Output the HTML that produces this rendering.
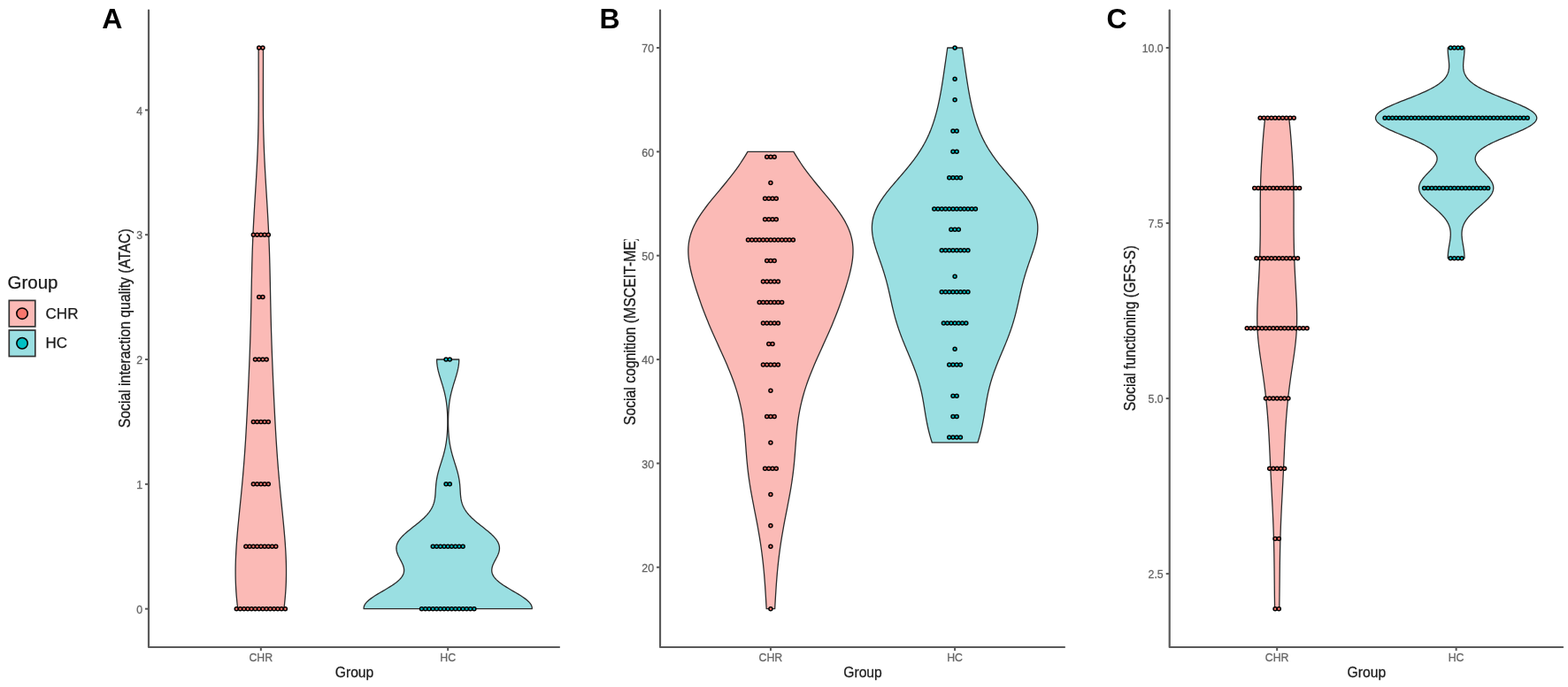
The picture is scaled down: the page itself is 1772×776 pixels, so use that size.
<!DOCTYPE html>
<html><head><meta charset="utf-8"><title>Violin plots</title>
<style>html,body{margin:0;padding:0;background:#fff;}svg{display:block;}text{font-family:'Liberation Sans', Arial, sans-serif;}</style>
</head><body>
<svg width="1772" height="776" viewBox="0 0 1772 776">
<rect width="1772" height="776" fill="#ffffff"/>
<defs><clipPath id="clipB" clipPathUnits="userSpaceOnUse"><rect x="690" y="270.3" width="40" height="300"/></clipPath></defs>
<path d="M268.73 687.7 L268.29 683.98 L267.88 680.26 L267.52 676.54 L267.19 672.82 L266.91 669.1 L266.68 665.38 L266.48 661.65 L266.33 657.93 L266.22 654.21 L266.15 650.49 L266.12 646.77 L266.13 643.05 L266.17 639.33 L266.26 635.61 L266.37 631.89 L266.52 628.17 L266.7 624.45 L266.91 620.73 L267.14 617 L267.4 613.28 L267.68 609.56 L267.98 605.84 L268.29 602.12 L268.62 598.4 L268.96 594.68 L269.32 590.96 L269.68 587.24 L270.05 583.52 L270.42 579.8 L270.79 576.08 L271.17 572.35 L271.54 568.63 L271.92 564.91 L272.29 561.19 L272.65 557.47 L273.01 553.75 L273.37 550.03 L273.72 546.31 L274.06 542.59 L274.39 538.87 L274.71 535.15 L275.03 531.43 L275.33 527.7 L275.63 523.98 L275.92 520.26 L276.2 516.54 L276.47 512.82 L276.73 509.1 L276.98 505.38 L277.23 501.66 L277.47 497.94 L277.7 494.22 L277.92 490.5 L278.14 486.78 L278.36 483.05 L278.56 479.33 L278.77 475.61 L278.96 471.89 L279.16 468.17 L279.35 464.45 L279.53 460.73 L279.72 457.01 L279.9 453.29 L280.08 449.57 L280.25 445.85 L280.42 442.13 L280.59 438.4 L280.76 434.68 L280.93 430.96 L281.09 427.24 L281.25 423.52 L281.41 419.8 L281.57 416.08 L281.72 412.36 L281.87 408.64 L282.02 404.92 L282.16 401.2 L282.3 397.48 L282.43 393.76 L282.56 390.03 L282.69 386.31 L282.81 382.59 L282.93 378.87 L283.04 375.15 L283.15 371.43 L283.25 367.71 L283.35 363.99 L283.45 360.27 L283.54 356.55 L283.63 352.83 L283.71 349.11 L283.79 345.38 L283.87 341.66 L283.94 337.94 L284.02 334.22 L284.09 330.5 L284.16 326.78 L284.23 323.06 L284.31 319.34 L284.38 315.62 L284.46 311.9 L284.54 308.18 L284.63 304.46 L284.72 300.73 L284.81 297.01 L284.92 293.29 L285.02 289.57 L285.14 285.85 L285.26 282.13 L285.39 278.41 L285.53 274.69 L285.68 270.97 L285.84 267.25 L286 263.53 L286.18 259.81 L286.36 256.08 L286.55 252.36 L286.75 248.64 L286.95 244.92 L287.16 241.2 L287.38 237.48 L287.6 233.76 L287.82 230.04 L288.05 226.32 L288.28 222.6 L288.51 218.88 L288.74 215.16 L288.96 211.43 L289.19 207.71 L289.41 203.99 L289.63 200.27 L289.85 196.55 L290.06 192.83 L290.26 189.11 L290.45 185.39 L290.64 181.67 L290.81 177.95 L290.98 174.23 L291.14 170.51 L291.28 166.78 L291.42 163.06 L291.54 159.34 L291.65 155.62 L291.75 151.9 L291.84 148.18 L291.92 144.46 L291.99 140.74 L292.05 137.02 L292.1 133.3 L292.14 129.58 L292.18 125.86 L292.2 122.14 L292.22 118.41 L292.23 114.69 L292.24 110.97 L292.24 107.25 L292.23 103.53 L292.23 99.81 L292.22 96.09 L292.21 92.37 L292.2 88.65 L292.18 84.93 L292.17 81.21 L292.16 77.49 L292.16 73.76 L292.15 70.04 L292.15 66.32 L292.15 62.6 L292.16 58.88 L292.17 55.16 L292.18 53.92 L297.46 53.92 L297.46 55.16 L297.48 58.88 L297.48 62.6 L297.48 66.32 L297.48 70.04 L297.48 73.76 L297.47 77.49 L297.46 81.21 L297.45 84.93 L297.44 88.65 L297.43 92.37 L297.42 96.09 L297.41 99.81 L297.4 103.53 L297.4 107.25 L297.4 110.97 L297.41 114.69 L297.42 118.41 L297.44 122.14 L297.46 125.86 L297.49 129.58 L297.53 133.3 L297.58 137.02 L297.64 140.74 L297.71 144.46 L297.79 148.18 L297.88 151.9 L297.98 155.62 L298.1 159.34 L298.22 163.06 L298.36 166.78 L298.5 170.51 L298.66 174.23 L298.82 177.95 L299 181.67 L299.18 185.39 L299.38 189.11 L299.58 192.83 L299.79 196.55 L300 200.27 L300.22 203.99 L300.45 207.71 L300.67 211.43 L300.9 215.16 L301.13 218.88 L301.36 222.6 L301.59 226.32 L301.82 230.04 L302.04 233.76 L302.26 237.48 L302.48 241.2 L302.69 244.92 L302.89 248.64 L303.09 252.36 L303.28 256.08 L303.46 259.81 L303.63 263.53 L303.8 267.25 L303.95 270.97 L304.1 274.69 L304.24 278.41 L304.37 282.13 L304.5 285.85 L304.61 289.57 L304.72 293.29 L304.82 297.01 L304.92 300.73 L305.01 304.46 L305.09 308.18 L305.18 311.9 L305.25 315.62 L305.33 319.34 L305.4 323.06 L305.48 326.78 L305.55 330.5 L305.62 334.22 L305.69 337.94 L305.77 341.66 L305.85 345.38 L305.93 349.11 L306.01 352.83 L306.1 356.55 L306.19 360.27 L306.28 363.99 L306.38 367.71 L306.49 371.43 L306.59 375.15 L306.71 378.87 L306.82 382.59 L306.95 386.31 L307.07 390.03 L307.2 393.76 L307.34 397.48 L307.48 401.2 L307.62 404.92 L307.77 408.64 L307.92 412.36 L308.07 416.08 L308.22 419.8 L308.38 423.52 L308.54 427.24 L308.71 430.96 L308.87 434.68 L309.04 438.4 L309.21 442.13 L309.38 445.85 L309.56 449.57 L309.74 453.29 L309.92 457.01 L310.1 460.73 L310.29 464.45 L310.48 468.17 L310.67 471.89 L310.87 475.61 L311.07 479.33 L311.28 483.05 L311.49 486.78 L311.71 490.5 L311.94 494.22 L312.17 497.94 L312.41 501.66 L312.65 505.38 L312.91 509.1 L313.17 512.82 L313.44 516.54 L313.72 520.26 L314.01 523.98 L314.3 527.7 L314.61 531.43 L314.92 535.15 L315.25 538.87 L315.58 542.59 L315.92 546.31 L316.27 550.03 L316.62 553.75 L316.98 557.47 L317.35 561.19 L317.72 564.91 L318.09 568.63 L318.47 572.35 L318.84 576.08 L319.22 579.8 L319.59 583.52 L319.96 587.24 L320.32 590.96 L320.67 594.68 L321.01 598.4 L321.34 602.12 L321.66 605.84 L321.96 609.56 L322.24 613.28 L322.49 617 L322.73 620.73 L322.94 624.45 L323.11 628.17 L323.26 631.89 L323.38 635.61 L323.46 639.33 L323.51 643.05 L323.52 646.77 L323.49 650.49 L323.42 654.21 L323.31 657.93 L323.16 661.65 L322.96 665.38 L322.72 669.1 L322.44 672.82 L322.12 676.54 L321.75 680.26 L321.35 683.98 L320.9 687.7Z" fill="#FBBAB6" stroke="#2b2b2b" stroke-width="1.3" stroke-linejoin="round"/>
<path d="M411.1 687.7 L411.14 686.05 L411.57 684.39 L412.4 682.74 L413.58 681.09 L415.11 679.43 L416.95 677.78 L419.06 676.12 L421.4 674.47 L423.94 672.82 L426.62 671.16 L429.39 669.51 L432.22 667.86 L435.05 666.2 L437.84 664.55 L440.55 662.89 L443.13 661.24 L445.55 659.59 L447.78 657.93 L449.79 656.28 L451.56 654.63 L453.07 652.97 L454.31 651.32 L455.28 649.66 L455.99 648.01 L456.43 646.36 L456.62 644.7 L456.58 643.05 L456.33 641.4 L455.89 639.74 L455.3 638.09 L454.58 636.44 L453.77 634.78 L452.91 633.13 L452.02 631.47 L451.15 629.82 L450.32 628.17 L449.58 626.51 L448.94 624.86 L448.43 623.21 L448.09 621.55 L447.92 619.9 L447.94 618.24 L448.16 616.59 L448.6 614.94 L449.24 613.28 L450.09 611.63 L451.15 609.98 L452.39 608.32 L453.82 606.67 L455.41 605.02 L457.14 603.36 L458.98 601.71 L460.93 600.05 L462.95 598.4 L465.02 596.75 L467.11 595.09 L469.21 593.44 L471.28 591.79 L473.31 590.13 L475.27 588.48 L477.16 586.82 L478.95 585.17 L480.63 583.52 L482.2 581.86 L483.64 580.21 L484.95 578.56 L486.13 576.9 L487.18 575.25 L488.11 573.59 L488.91 571.94 L489.59 570.29 L490.17 568.63 L490.64 566.98 L491.03 565.33 L491.34 563.67 L491.59 562.02 L491.79 560.37 L491.94 558.71 L492.06 557.06 L492.17 555.4 L492.26 553.75 L492.36 552.1 L492.47 550.44 L492.6 548.79 L492.74 547.14 L492.92 545.48 L493.13 543.83 L493.37 542.17 L493.65 540.52 L493.97 538.87 L494.32 537.21 L494.71 535.56 L495.13 533.91 L495.57 532.25 L496.04 530.6 L496.53 528.94 L497.04 527.29 L497.56 525.64 L498.08 523.98 L498.61 522.33 L499.13 520.68 L499.65 519.02 L500.16 517.37 L500.65 515.72 L501.13 514.06 L501.58 512.41 L502.01 510.75 L502.42 509.1 L502.81 507.45 L503.17 505.79 L503.5 504.14 L503.81 502.49 L504.09 500.83 L504.34 499.18 L504.57 497.52 L504.78 495.87 L504.96 494.22 L505.13 492.56 L505.27 490.91 L505.39 489.26 L505.5 487.6 L505.58 485.95 L505.66 484.3 L505.71 482.64 L505.76 480.99 L505.79 479.33 L505.8 477.68 L505.81 476.03 L505.8 474.37 L505.77 472.72 L505.74 471.07 L505.69 469.41 L505.62 467.76 L505.54 466.1 L505.45 464.45 L505.33 462.8 L505.2 461.14 L505.05 459.49 L504.88 457.84 L504.68 456.18 L504.46 454.53 L504.22 452.87 L503.95 451.22 L503.66 449.57 L503.34 447.91 L502.99 446.26 L502.62 444.61 L502.23 442.95 L501.81 441.3 L501.36 439.65 L500.9 437.99 L500.42 436.34 L499.92 434.68 L499.41 433.03 L498.9 431.38 L498.38 429.72 L497.86 428.07 L497.35 426.42 L496.85 424.76 L496.37 423.11 L495.91 421.45 L495.49 419.8 L495.09 418.15 L494.73 416.49 L494.42 414.84 L494.15 413.19 L493.94 411.53 L493.77 409.88 L493.67 408.22 L493.62 406.57 L493.62 406.02 L518.75 406.02 L518.74 406.57 L518.69 408.22 L518.59 409.88 L518.43 411.53 L518.21 413.19 L517.94 414.84 L517.63 416.49 L517.27 418.15 L516.88 419.8 L516.45 421.45 L515.99 423.11 L515.51 424.76 L515.01 426.42 L514.5 428.07 L513.99 429.72 L513.47 431.38 L512.95 433.03 L512.44 434.68 L511.95 436.34 L511.47 437.99 L511 439.65 L510.56 441.3 L510.14 442.95 L509.74 444.61 L509.37 446.26 L509.02 447.91 L508.7 449.57 L508.41 451.22 L508.14 452.87 L507.9 454.53 L507.68 456.18 L507.49 457.84 L507.32 459.49 L507.16 461.14 L507.03 462.8 L506.92 464.45 L506.82 466.1 L506.74 467.76 L506.68 469.41 L506.63 471.07 L506.59 472.72 L506.57 474.37 L506.56 476.03 L506.56 477.68 L506.58 479.33 L506.61 480.99 L506.65 482.64 L506.71 484.3 L506.78 485.95 L506.87 487.6 L506.97 489.26 L507.09 490.91 L507.24 492.56 L507.4 494.22 L507.58 495.87 L507.79 497.52 L508.02 499.18 L508.27 500.83 L508.56 502.49 L508.86 504.14 L509.19 505.79 L509.55 507.45 L509.94 509.1 L510.35 510.75 L510.78 512.41 L511.24 514.06 L511.71 515.72 L512.21 517.37 L512.71 519.02 L513.23 520.68 L513.75 522.33 L514.28 523.98 L514.81 525.64 L515.32 527.29 L515.83 528.94 L516.32 530.6 L516.79 532.25 L517.24 533.91 L517.65 535.56 L518.04 537.21 L518.39 538.87 L518.71 540.52 L518.99 542.17 L519.23 543.83 L519.44 545.48 L519.62 547.14 L519.77 548.79 L519.89 550.44 L520 552.1 L520.1 553.75 L520.2 555.4 L520.3 557.06 L520.42 558.71 L520.58 560.37 L520.77 562.02 L521.02 563.67 L521.33 565.33 L521.72 566.98 L522.2 568.63 L522.77 570.29 L523.46 571.94 L524.26 573.59 L525.18 575.25 L526.23 576.9 L527.41 578.56 L528.72 580.21 L530.16 581.86 L531.73 583.52 L533.41 585.17 L535.2 586.82 L537.09 588.48 L539.06 590.13 L541.08 591.79 L543.16 593.44 L545.25 595.09 L547.34 596.75 L549.41 598.4 L551.43 600.05 L553.38 601.71 L555.23 603.36 L556.96 605.02 L558.54 606.67 L559.97 608.32 L561.22 609.98 L562.27 611.63 L563.12 613.28 L563.77 614.94 L564.2 616.59 L564.43 618.24 L564.45 619.9 L564.28 621.55 L563.93 623.21 L563.42 624.86 L562.79 626.51 L562.04 628.17 L561.21 629.82 L560.34 631.47 L559.46 633.13 L558.59 634.78 L557.78 636.44 L557.07 638.09 L556.47 639.74 L556.04 641.4 L555.79 643.05 L555.74 644.7 L555.93 646.36 L556.38 648.01 L557.08 649.66 L558.05 651.32 L559.3 652.97 L560.81 654.63 L562.58 656.28 L564.59 657.93 L566.81 659.59 L569.23 661.24 L571.82 662.89 L574.52 664.55 L577.31 666.2 L580.14 667.86 L582.97 669.51 L585.75 671.16 L588.43 672.82 L590.96 674.47 L593.3 676.12 L595.42 677.78 L597.25 679.43 L598.78 681.09 L599.97 682.74 L600.79 684.39 L601.23 686.05 L601.26 687.7Z" fill="#9ADFE2" stroke="#2b2b2b" stroke-width="1.3" stroke-linejoin="round"/>
<g fill="#F8766D" stroke="#000" stroke-width="1.5"><circle cx="267.26" cy="687.7" r="2.0"/><circle cx="271.5" cy="687.7" r="2.0"/><circle cx="275.74" cy="687.7" r="2.0"/><circle cx="279.98" cy="687.7" r="2.0"/><circle cx="284.22" cy="687.7" r="2.0"/><circle cx="288.46" cy="687.7" r="2.0"/><circle cx="292.7" cy="687.7" r="2.0"/><circle cx="296.94" cy="687.7" r="2.0"/><circle cx="301.18" cy="687.7" r="2.0"/><circle cx="305.42" cy="687.7" r="2.0"/><circle cx="309.66" cy="687.7" r="2.0"/><circle cx="313.9" cy="687.7" r="2.0"/><circle cx="318.14" cy="687.7" r="2.0"/><circle cx="322.38" cy="687.7" r="2.0"/><circle cx="277.86" cy="617.28" r="2.0"/><circle cx="282.1" cy="617.28" r="2.0"/><circle cx="286.34" cy="617.28" r="2.0"/><circle cx="290.58" cy="617.28" r="2.0"/><circle cx="294.82" cy="617.28" r="2.0"/><circle cx="299.06" cy="617.28" r="2.0"/><circle cx="303.3" cy="617.28" r="2.0"/><circle cx="307.54" cy="617.28" r="2.0"/><circle cx="311.78" cy="617.28" r="2.0"/><circle cx="286.34" cy="546.86" r="2.0"/><circle cx="290.58" cy="546.86" r="2.0"/><circle cx="294.82" cy="546.86" r="2.0"/><circle cx="299.06" cy="546.86" r="2.0"/><circle cx="303.3" cy="546.86" r="2.0"/><circle cx="286.34" cy="476.44" r="2.0"/><circle cx="290.58" cy="476.44" r="2.0"/><circle cx="294.82" cy="476.44" r="2.0"/><circle cx="299.06" cy="476.44" r="2.0"/><circle cx="303.3" cy="476.44" r="2.0"/><circle cx="288.46" cy="406.02" r="2.0"/><circle cx="292.7" cy="406.02" r="2.0"/><circle cx="296.94" cy="406.02" r="2.0"/><circle cx="301.18" cy="406.02" r="2.0"/><circle cx="292.7" cy="335.6" r="2.0"/><circle cx="296.94" cy="335.6" r="2.0"/><circle cx="286.34" cy="265.18" r="2.0"/><circle cx="290.58" cy="265.18" r="2.0"/><circle cx="294.82" cy="265.18" r="2.0"/><circle cx="299.06" cy="265.18" r="2.0"/><circle cx="303.3" cy="265.18" r="2.0"/><circle cx="292.7" cy="53.92" r="2.0"/><circle cx="296.94" cy="53.92" r="2.0"/></g>
<g fill="#00BFC4" stroke="#000" stroke-width="1.5"><circle cx="476.5" cy="687.7" r="2.0"/><circle cx="480.74" cy="687.7" r="2.0"/><circle cx="484.98" cy="687.7" r="2.0"/><circle cx="489.22" cy="687.7" r="2.0"/><circle cx="493.46" cy="687.7" r="2.0"/><circle cx="497.7" cy="687.7" r="2.0"/><circle cx="501.94" cy="687.7" r="2.0"/><circle cx="506.18" cy="687.7" r="2.0"/><circle cx="510.42" cy="687.7" r="2.0"/><circle cx="514.66" cy="687.7" r="2.0"/><circle cx="518.9" cy="687.7" r="2.0"/><circle cx="523.14" cy="687.7" r="2.0"/><circle cx="527.38" cy="687.7" r="2.0"/><circle cx="531.62" cy="687.7" r="2.0"/><circle cx="535.86" cy="687.7" r="2.0"/><circle cx="489.22" cy="617.28" r="2.0"/><circle cx="493.46" cy="617.28" r="2.0"/><circle cx="497.7" cy="617.28" r="2.0"/><circle cx="501.94" cy="617.28" r="2.0"/><circle cx="506.18" cy="617.28" r="2.0"/><circle cx="510.42" cy="617.28" r="2.0"/><circle cx="514.66" cy="617.28" r="2.0"/><circle cx="518.9" cy="617.28" r="2.0"/><circle cx="523.14" cy="617.28" r="2.0"/><circle cx="504.06" cy="546.86" r="2.0"/><circle cx="508.3" cy="546.86" r="2.0"/><circle cx="504.06" cy="406.02" r="2.0"/><circle cx="508.3" cy="406.02" r="2.0"/></g>
<path d="M168 11.55 L168 731 L632 731" fill="none" stroke="#5a5a5a" stroke-width="2.2" stroke-linecap="round" stroke-linejoin="round"/>
<line x1="164" y1="687.7" x2="168" y2="687.7" stroke="#5a5a5a" stroke-width="2"/>
<text x="161" y="693" text-anchor="end" font-size="12.3" fill="#666666" stroke="#666666" stroke-width="0.3">0</text>
<line x1="164" y1="546.86" x2="168" y2="546.86" stroke="#5a5a5a" stroke-width="2"/>
<text x="161" y="552.16" text-anchor="end" font-size="12.3" fill="#666666" stroke="#666666" stroke-width="0.3">1</text>
<line x1="164" y1="406.02" x2="168" y2="406.02" stroke="#5a5a5a" stroke-width="2"/>
<text x="161" y="411.32" text-anchor="end" font-size="12.3" fill="#666666" stroke="#666666" stroke-width="0.3">2</text>
<line x1="164" y1="265.18" x2="168" y2="265.18" stroke="#5a5a5a" stroke-width="2"/>
<text x="161" y="270.48" text-anchor="end" font-size="12.3" fill="#666666" stroke="#666666" stroke-width="0.3">3</text>
<line x1="164" y1="124.34" x2="168" y2="124.34" stroke="#5a5a5a" stroke-width="2"/>
<text x="161" y="129.64" text-anchor="end" font-size="12.3" fill="#666666" stroke="#666666" stroke-width="0.3">4</text>
<line x1="294.82" y1="731" x2="294.82" y2="735" stroke="#5a5a5a" stroke-width="2"/>
<text x="294.82" y="747" text-anchor="middle" font-size="12.3" fill="#666666" stroke="#666666" stroke-width="0.3">CHR</text>
<line x1="506.18" y1="731" x2="506.18" y2="735" stroke="#5a5a5a" stroke-width="2"/>
<text x="506.18" y="747" text-anchor="middle" font-size="12.3" fill="#666666" stroke="#666666" stroke-width="0.3">HC</text>
<text transform="translate(400.5 765.2) scale(1 1.1)" text-anchor="middle" font-size="15.7" fill="#1a1a1a" stroke="#1a1a1a" stroke-width="0.25">Group</text>
<g><text transform="translate(147 370.82) rotate(-90) scale(1 1.15)" x="0" y="0" text-anchor="middle" font-size="15.8" fill="#1a1a1a" stroke="#1a1a1a" stroke-width="0.25">Social interaction quality (ATAC)</text></g>
<text x="115.3" y="32.3" font-size="32" font-weight="bold" fill="#000">A</text>
<path d="M866.17 687.7 L866 684.67 L865.82 681.64 L865.65 678.61 L865.47 675.57 L865.29 672.54 L865.1 669.51 L864.91 666.48 L864.71 663.45 L864.49 660.42 L864.27 657.39 L864.04 654.36 L863.8 651.32 L863.54 648.29 L863.27 645.26 L862.98 642.23 L862.68 639.2 L862.36 636.17 L862.02 633.14 L861.66 630.1 L861.29 627.07 L860.9 624.04 L860.49 621.01 L860.07 617.98 L859.62 614.95 L859.16 611.92 L858.68 608.88 L858.19 605.85 L857.67 602.82 L857.15 599.79 L856.61 596.76 L856.06 593.73 L855.49 590.7 L854.92 587.67 L854.33 584.63 L853.75 581.6 L853.15 578.57 L852.56 575.54 L851.97 572.51 L851.38 569.48 L850.79 566.45 L850.21 563.41 L849.65 560.38 L849.1 557.35 L848.56 554.32 L848.04 551.29 L847.55 548.26 L847.07 545.23 L846.62 542.2 L846.19 539.16 L845.79 536.13 L845.41 533.1 L845.06 530.07 L844.73 527.04 L844.42 524.01 L844.13 520.98 L843.86 517.94 L843.61 514.91 L843.37 511.88 L843.14 508.85 L842.91 505.82 L842.68 502.79 L842.45 499.76 L842.22 496.72 L841.97 493.69 L841.71 490.66 L841.42 487.63 L841.12 484.6 L840.79 481.57 L840.42 478.54 L840.02 475.51 L839.59 472.47 L839.11 469.44 L838.59 466.41 L838.03 463.38 L837.42 460.35 L836.77 457.32 L836.06 454.29 L835.31 451.25 L834.51 448.22 L833.66 445.19 L832.76 442.16 L831.82 439.13 L830.83 436.1 L829.79 433.07 L828.71 430.04 L827.59 427 L826.44 423.97 L825.24 420.94 L824.02 417.91 L822.76 414.88 L821.47 411.85 L820.16 408.82 L818.83 405.78 L817.48 402.75 L816.12 399.72 L814.75 396.69 L813.37 393.66 L811.99 390.63 L810.61 387.6 L809.23 384.56 L807.87 381.53 L806.51 378.5 L805.17 375.47 L803.85 372.44 L802.54 369.41 L801.26 366.38 L800 363.35 L798.76 360.31 L797.55 357.28 L796.37 354.25 L795.2 351.22 L794.06 348.19 L792.95 345.16 L791.86 342.13 L790.79 339.09 L789.74 336.06 L788.72 333.03 L787.72 330 L786.73 326.97 L785.78 323.94 L784.85 320.91 L783.95 317.88 L783.08 314.84 L782.25 311.81 L781.46 308.78 L780.73 305.75 L780.06 302.72 L779.45 299.69 L778.93 296.66 L778.49 293.62 L778.15 290.59 L777.91 287.56 L777.8 284.53 L777.81 281.5 L777.96 278.47 L778.26 275.44 L778.7 272.41 L779.31 269.37 L780.07 266.34 L781 263.31 L782.09 260.28 L783.34 257.25 L784.75 254.22 L786.31 251.19 L788.02 248.15 L789.87 245.12 L791.84 242.09 L793.93 239.06 L796.13 236.03 L798.41 233 L800.77 229.97 L803.2 226.93 L805.67 223.9 L808.18 220.87 L810.71 217.84 L813.24 214.81 L815.77 211.78 L818.28 208.75 L820.77 205.72 L823.21 202.68 L825.62 199.65 L827.97 196.62 L830.26 193.59 L832.48 190.56 L834.64 187.53 L836.73 184.5 L838.75 181.46 L840.69 178.43 L842.56 175.4 L844.35 172.37 L844.93 171.36 L896.89 171.36 L897.47 172.37 L899.26 175.4 L901.13 178.43 L903.07 181.46 L905.09 184.5 L907.17 187.53 L909.33 190.56 L911.56 193.59 L913.85 196.62 L916.2 199.65 L918.6 202.68 L921.05 205.72 L923.54 208.75 L926.05 211.78 L928.58 214.81 L931.11 217.84 L933.64 220.87 L936.15 223.9 L938.62 226.93 L941.04 229.97 L943.41 233 L945.69 236.03 L947.89 239.06 L949.98 242.09 L951.95 245.12 L953.8 248.15 L955.51 251.19 L957.07 254.22 L958.48 257.25 L959.73 260.28 L960.82 263.31 L961.75 266.34 L962.51 269.37 L963.12 272.41 L963.56 275.44 L963.86 278.47 L964.01 281.5 L964.02 284.53 L963.91 287.56 L963.67 290.59 L963.33 293.62 L962.89 296.66 L962.37 299.69 L961.76 302.72 L961.09 305.75 L960.35 308.78 L959.57 311.81 L958.74 314.84 L957.87 317.88 L956.97 320.91 L956.04 323.94 L955.08 326.97 L954.1 330 L953.1 333.03 L952.07 336.06 L951.03 339.09 L949.96 342.13 L948.87 345.16 L947.75 348.19 L946.62 351.22 L945.45 354.25 L944.27 357.28 L943.05 360.31 L941.82 363.35 L940.56 366.38 L939.27 369.41 L937.97 372.44 L936.65 375.47 L935.31 378.5 L933.95 381.53 L932.58 384.56 L931.21 387.6 L929.83 390.63 L928.45 393.66 L927.07 396.69 L925.7 399.72 L924.34 402.75 L922.99 405.78 L921.66 408.82 L920.35 411.85 L919.06 414.88 L917.8 417.91 L916.58 420.94 L915.38 423.97 L914.22 427 L913.11 430.04 L912.03 433.07 L910.99 436.1 L910 439.13 L909.06 442.16 L908.16 445.19 L907.31 448.22 L906.51 451.25 L905.76 454.29 L905.05 457.32 L904.4 460.35 L903.79 463.38 L903.23 466.41 L902.71 469.44 L902.23 472.47 L901.8 475.51 L901.4 478.54 L901.03 481.57 L900.7 484.6 L900.39 487.63 L900.11 490.66 L899.85 493.69 L899.6 496.72 L899.37 499.76 L899.14 502.79 L898.91 505.82 L898.68 508.85 L898.45 511.88 L898.21 514.91 L897.95 517.94 L897.69 520.98 L897.4 524.01 L897.09 527.04 L896.76 530.07 L896.41 533.1 L896.03 536.13 L895.63 539.16 L895.2 542.2 L894.75 545.23 L894.27 548.26 L893.77 551.29 L893.26 554.32 L892.72 557.35 L892.17 560.38 L891.6 563.41 L891.03 566.45 L890.44 569.48 L889.85 572.51 L889.26 575.54 L888.66 578.57 L888.07 581.6 L887.48 584.63 L886.9 587.67 L886.33 590.7 L885.76 593.73 L885.21 596.76 L884.67 599.79 L884.14 602.82 L883.63 605.85 L883.14 608.88 L882.66 611.92 L882.2 614.95 L881.75 617.98 L881.33 621.01 L880.92 624.04 L880.53 627.07 L880.15 630.1 L879.8 633.14 L879.46 636.17 L879.14 639.2 L878.84 642.23 L878.55 645.26 L878.28 648.29 L878.02 651.32 L877.78 654.36 L877.54 657.39 L877.32 660.42 L877.11 663.45 L876.91 666.48 L876.72 669.51 L876.53 672.54 L876.35 675.57 L876.17 678.61 L875.99 681.64 L875.82 684.67 L875.65 687.7Z" fill="#FBBAB6" stroke="#2b2b2b" stroke-width="1.3" stroke-linejoin="round"/>
<path d="M1053.31 499.94 L1052.48 497.32 L1051.69 494.7 L1050.94 492.09 L1050.24 489.47 L1049.57 486.85 L1048.95 484.23 L1048.36 481.61 L1047.81 479 L1047.3 476.38 L1046.81 473.76 L1046.34 471.14 L1045.9 468.52 L1045.46 465.91 L1045.04 463.29 L1044.62 460.67 L1044.19 458.05 L1043.75 455.43 L1043.29 452.82 L1042.82 450.2 L1042.32 447.58 L1041.79 444.96 L1041.22 442.34 L1040.62 439.73 L1039.97 437.11 L1039.29 434.49 L1038.56 431.87 L1037.78 429.25 L1036.97 426.64 L1036.11 424.02 L1035.21 421.4 L1034.27 418.78 L1033.29 416.16 L1032.29 413.55 L1031.25 410.93 L1030.19 408.31 L1029.11 405.69 L1028.02 403.07 L1026.92 400.46 L1025.81 397.84 L1024.71 395.22 L1023.61 392.6 L1022.52 389.98 L1021.45 387.37 L1020.39 384.75 L1019.36 382.13 L1018.36 379.51 L1017.38 376.89 L1016.44 374.28 L1015.53 371.66 L1014.65 369.04 L1013.81 366.42 L1013.01 363.8 L1012.24 361.19 L1011.5 358.57 L1010.8 355.95 L1010.12 353.33 L1009.48 350.71 L1008.85 348.1 L1008.24 345.48 L1007.65 342.86 L1007.07 340.24 L1006.5 337.62 L1005.92 335.01 L1005.34 332.39 L1004.75 329.77 L1004.15 327.15 L1003.53 324.54 L1002.88 321.92 L1002.21 319.3 L1001.52 316.68 L1000.79 314.06 L1000.03 311.45 L999.24 308.83 L998.42 306.21 L997.58 303.59 L996.7 300.97 L995.81 298.36 L994.9 295.74 L993.98 293.12 L993.06 290.5 L992.14 287.88 L991.24 285.27 L990.36 282.65 L989.52 280.03 L988.73 277.41 L988 274.79 L987.33 272.18 L986.75 269.56 L986.26 266.94 L985.87 264.32 L985.59 261.7 L985.44 259.09 L985.42 256.47 L985.53 253.85 L985.79 251.23 L986.2 248.61 L986.76 246 L987.47 243.38 L988.34 240.76 L989.35 238.14 L990.52 235.52 L991.83 232.91 L993.28 230.29 L994.86 227.67 L996.56 225.05 L998.37 222.43 L1000.28 219.82 L1002.28 217.2 L1004.36 214.58 L1006.5 211.96 L1008.7 209.34 L1010.93 206.73 L1013.18 204.11 L1015.45 201.49 L1017.71 198.87 L1019.97 196.25 L1022.2 193.64 L1024.4 191.02 L1026.55 188.4 L1028.66 185.78 L1030.71 183.16 L1032.7 180.55 L1034.62 177.93 L1036.47 175.31 L1038.24 172.69 L1039.94 170.07 L1041.57 167.46 L1043.11 164.84 L1044.59 162.22 L1045.99 159.6 L1047.31 156.98 L1048.57 154.37 L1049.76 151.75 L1050.88 149.13 L1051.95 146.51 L1052.95 143.89 L1053.9 141.28 L1054.8 138.66 L1055.65 136.04 L1056.46 133.42 L1057.22 130.8 L1057.95 128.19 L1058.63 125.57 L1059.28 122.95 L1059.91 120.33 L1060.5 117.71 L1061.06 115.1 L1061.6 112.48 L1062.12 109.86 L1062.62 107.24 L1063.1 104.62 L1063.56 102.01 L1064.01 99.39 L1064.44 96.77 L1064.86 94.15 L1065.28 91.53 L1065.68 88.92 L1066.08 86.3 L1066.47 83.68 L1066.85 81.06 L1067.23 78.44 L1067.61 75.83 L1067.99 73.21 L1068.37 70.59 L1068.74 67.97 L1069.12 65.35 L1069.49 62.74 L1069.87 60.12 L1070.25 57.5 L1070.62 54.88 L1070.74 54.01 L1087.44 54.01 L1087.56 54.88 L1087.94 57.5 L1088.31 60.12 L1088.69 62.74 L1089.06 65.35 L1089.44 67.97 L1089.81 70.59 L1090.19 73.21 L1090.57 75.83 L1090.95 78.44 L1091.33 81.06 L1091.72 83.68 L1092.11 86.3 L1092.5 88.92 L1092.91 91.53 L1093.32 94.15 L1093.74 96.77 L1094.18 99.39 L1094.62 102.01 L1095.08 104.62 L1095.56 107.24 L1096.06 109.86 L1096.58 112.48 L1097.12 115.1 L1097.68 117.71 L1098.28 120.33 L1098.9 122.95 L1099.55 125.57 L1100.24 128.19 L1100.96 130.8 L1101.72 133.42 L1102.53 136.04 L1103.38 138.66 L1104.28 141.28 L1105.23 143.89 L1106.23 146.51 L1107.3 149.13 L1108.42 151.75 L1109.61 154.37 L1110.87 156.98 L1112.2 159.6 L1113.59 162.22 L1115.07 164.84 L1116.62 167.46 L1118.24 170.07 L1119.94 172.69 L1121.72 175.31 L1123.57 177.93 L1125.49 180.55 L1127.47 183.16 L1129.52 185.78 L1131.63 188.4 L1133.79 191.02 L1135.98 193.64 L1138.22 196.25 L1140.47 198.87 L1142.73 201.49 L1145 204.11 L1147.26 206.73 L1149.49 209.34 L1151.68 211.96 L1153.82 214.58 L1155.9 217.2 L1157.9 219.82 L1159.81 222.43 L1161.62 225.05 L1163.32 227.67 L1164.9 230.29 L1166.35 232.91 L1167.66 235.52 L1168.83 238.14 L1169.85 240.76 L1170.71 243.38 L1171.42 246 L1171.98 248.61 L1172.39 251.23 L1172.65 253.85 L1172.77 256.47 L1172.74 259.09 L1172.59 261.7 L1172.31 264.32 L1171.92 266.94 L1171.43 269.56 L1170.85 272.18 L1170.18 274.79 L1169.45 277.41 L1168.66 280.03 L1167.82 282.65 L1166.94 285.27 L1166.04 287.88 L1165.13 290.5 L1164.2 293.12 L1163.28 295.74 L1162.37 298.36 L1161.48 300.97 L1160.61 303.59 L1159.76 306.21 L1158.94 308.83 L1158.15 311.45 L1157.39 314.06 L1156.66 316.68 L1155.97 319.3 L1155.3 321.92 L1154.65 324.54 L1154.03 327.15 L1153.43 329.77 L1152.84 332.39 L1152.26 335.01 L1151.69 337.62 L1151.11 340.24 L1150.53 342.86 L1149.94 345.48 L1149.33 348.1 L1148.71 350.71 L1148.06 353.33 L1147.38 355.95 L1146.68 358.57 L1145.94 361.19 L1145.17 363.8 L1144.37 366.42 L1143.53 369.04 L1142.66 371.66 L1141.75 374.28 L1140.8 376.89 L1139.83 379.51 L1138.82 382.13 L1137.79 384.75 L1136.73 387.37 L1135.66 389.98 L1134.57 392.6 L1133.47 395.22 L1132.37 397.84 L1131.26 400.46 L1130.16 403.07 L1129.07 405.69 L1127.99 408.31 L1126.93 410.93 L1125.9 413.55 L1124.89 416.16 L1123.91 418.78 L1122.97 421.4 L1122.07 424.02 L1121.21 426.64 L1120.4 429.25 L1119.62 431.87 L1118.89 434.49 L1118.21 437.11 L1117.56 439.73 L1116.96 442.34 L1116.39 444.96 L1115.86 447.58 L1115.36 450.2 L1114.89 452.82 L1114.43 455.43 L1113.99 458.05 L1113.57 460.67 L1113.14 463.29 L1112.72 465.91 L1112.28 468.52 L1111.84 471.14 L1111.37 473.76 L1110.88 476.38 L1110.37 479 L1109.82 481.61 L1109.23 484.23 L1108.61 486.85 L1107.94 489.47 L1107.24 492.09 L1106.49 494.7 L1105.7 497.32 L1104.87 499.94Z" fill="#9ADFE2" stroke="#2b2b2b" stroke-width="1.3" stroke-linejoin="round"/>
<g fill="#F8766D" stroke="#000" stroke-width="1.5"><circle cx="866.67" cy="177.23" r="2.0"/><circle cx="870.91" cy="177.23" r="2.0"/><circle cx="875.15" cy="177.23" r="2.0"/><circle cx="870.91" cy="206.57" r="2.0"/><circle cx="864.55" cy="224.17" r="2.0"/><circle cx="868.79" cy="224.17" r="2.0"/><circle cx="873.03" cy="224.17" r="2.0"/><circle cx="877.27" cy="224.17" r="2.0"/><circle cx="864.55" cy="247.64" r="2.0"/><circle cx="868.79" cy="247.64" r="2.0"/><circle cx="873.03" cy="247.64" r="2.0"/><circle cx="877.27" cy="247.64" r="2.0"/><circle cx="845.47" cy="271.11" r="2.0"/><circle cx="849.71" cy="271.11" r="2.0"/><circle cx="853.95" cy="271.11" r="2.0"/><circle cx="858.19" cy="271.11" r="2.0"/><circle cx="862.43" cy="271.11" r="2.0"/><circle cx="866.67" cy="271.11" r="2.0"/><circle cx="870.91" cy="271.11" r="2.0"/><circle cx="875.15" cy="271.11" r="2.0"/><circle cx="879.39" cy="271.11" r="2.0"/><circle cx="883.63" cy="271.11" r="2.0"/><circle cx="887.87" cy="271.11" r="2.0"/><circle cx="892.11" cy="271.11" r="2.0"/><circle cx="896.35" cy="271.11" r="2.0"/><circle cx="866.67" cy="294.58" r="2.0"/><circle cx="870.91" cy="294.58" r="2.0"/><circle cx="875.15" cy="294.58" r="2.0"/><circle cx="862.43" cy="318.05" r="2.0"/><circle cx="866.67" cy="318.05" r="2.0"/><circle cx="870.91" cy="318.05" r="2.0"/><circle cx="875.15" cy="318.05" r="2.0"/><circle cx="879.39" cy="318.05" r="2.0"/><circle cx="858.19" cy="341.52" r="2.0"/><circle cx="862.43" cy="341.52" r="2.0"/><circle cx="866.67" cy="341.52" r="2.0"/><circle cx="870.91" cy="341.52" r="2.0"/><circle cx="875.15" cy="341.52" r="2.0"/><circle cx="879.39" cy="341.52" r="2.0"/><circle cx="883.63" cy="341.52" r="2.0"/><circle cx="862.43" cy="364.99" r="2.0"/><circle cx="866.67" cy="364.99" r="2.0"/><circle cx="870.91" cy="364.99" r="2.0"/><circle cx="875.15" cy="364.99" r="2.0"/><circle cx="879.39" cy="364.99" r="2.0"/><circle cx="868.79" cy="388.46" r="2.0"/><circle cx="873.03" cy="388.46" r="2.0"/><circle cx="862.43" cy="411.93" r="2.0"/><circle cx="866.67" cy="411.93" r="2.0"/><circle cx="870.91" cy="411.93" r="2.0"/><circle cx="875.15" cy="411.93" r="2.0"/><circle cx="879.39" cy="411.93" r="2.0"/><circle cx="870.91" cy="441.27" r="2.0"/><circle cx="866.67" cy="470.6" r="2.0"/><circle cx="870.91" cy="470.6" r="2.0"/><circle cx="875.15" cy="470.6" r="2.0"/><circle cx="870.91" cy="499.94" r="2.0"/><circle cx="864.55" cy="529.28" r="2.0"/><circle cx="868.79" cy="529.28" r="2.0"/><circle cx="873.03" cy="529.28" r="2.0"/><circle cx="877.27" cy="529.28" r="2.0"/><circle cx="870.91" cy="558.62" r="2.0"/><circle cx="870.91" cy="593.82" r="2.0"/><circle cx="870.91" cy="617.29" r="2.0"/><circle cx="870.91" cy="687.7" r="2.0"/></g>
<g fill="#00BFC4" stroke="#000" stroke-width="1.5"><circle cx="1079.09" cy="54.01" r="2.0"/><circle cx="1079.09" cy="89.22" r="2.0"/><circle cx="1079.09" cy="112.69" r="2.0"/><circle cx="1076.97" cy="147.89" r="2.0"/><circle cx="1081.21" cy="147.89" r="2.0"/><circle cx="1076.97" cy="171.36" r="2.0"/><circle cx="1081.21" cy="171.36" r="2.0"/><circle cx="1072.73" cy="200.7" r="2.0"/><circle cx="1076.97" cy="200.7" r="2.0"/><circle cx="1081.21" cy="200.7" r="2.0"/><circle cx="1085.45" cy="200.7" r="2.0"/><circle cx="1055.77" cy="235.9" r="2.0"/><circle cx="1060.01" cy="235.9" r="2.0"/><circle cx="1064.25" cy="235.9" r="2.0"/><circle cx="1068.49" cy="235.9" r="2.0"/><circle cx="1072.73" cy="235.9" r="2.0"/><circle cx="1076.97" cy="235.9" r="2.0"/><circle cx="1081.21" cy="235.9" r="2.0"/><circle cx="1085.45" cy="235.9" r="2.0"/><circle cx="1089.69" cy="235.9" r="2.0"/><circle cx="1093.93" cy="235.9" r="2.0"/><circle cx="1098.17" cy="235.9" r="2.0"/><circle cx="1102.41" cy="235.9" r="2.0"/><circle cx="1074.85" cy="259.37" r="2.0"/><circle cx="1079.09" cy="259.37" r="2.0"/><circle cx="1083.33" cy="259.37" r="2.0"/><circle cx="1064.25" cy="282.84" r="2.0"/><circle cx="1068.49" cy="282.84" r="2.0"/><circle cx="1072.73" cy="282.84" r="2.0"/><circle cx="1076.97" cy="282.84" r="2.0"/><circle cx="1081.21" cy="282.84" r="2.0"/><circle cx="1085.45" cy="282.84" r="2.0"/><circle cx="1089.69" cy="282.84" r="2.0"/><circle cx="1093.93" cy="282.84" r="2.0"/><circle cx="1079.09" cy="312.18" r="2.0"/><circle cx="1064.25" cy="329.78" r="2.0"/><circle cx="1068.49" cy="329.78" r="2.0"/><circle cx="1072.73" cy="329.78" r="2.0"/><circle cx="1076.97" cy="329.78" r="2.0"/><circle cx="1081.21" cy="329.78" r="2.0"/><circle cx="1085.45" cy="329.78" r="2.0"/><circle cx="1089.69" cy="329.78" r="2.0"/><circle cx="1093.93" cy="329.78" r="2.0"/><circle cx="1066.37" cy="364.99" r="2.0"/><circle cx="1070.61" cy="364.99" r="2.0"/><circle cx="1074.85" cy="364.99" r="2.0"/><circle cx="1079.09" cy="364.99" r="2.0"/><circle cx="1083.33" cy="364.99" r="2.0"/><circle cx="1087.57" cy="364.99" r="2.0"/><circle cx="1091.81" cy="364.99" r="2.0"/><circle cx="1079.09" cy="394.33" r="2.0"/><circle cx="1072.73" cy="411.93" r="2.0"/><circle cx="1076.97" cy="411.93" r="2.0"/><circle cx="1081.21" cy="411.93" r="2.0"/><circle cx="1085.45" cy="411.93" r="2.0"/><circle cx="1076.97" cy="447.13" r="2.0"/><circle cx="1081.21" cy="447.13" r="2.0"/><circle cx="1076.97" cy="470.6" r="2.0"/><circle cx="1081.21" cy="470.6" r="2.0"/><circle cx="1072.73" cy="494.07" r="2.0"/><circle cx="1076.97" cy="494.07" r="2.0"/><circle cx="1081.21" cy="494.07" r="2.0"/><circle cx="1085.45" cy="494.07" r="2.0"/></g>
<path d="M746 11.55 L746 731 L1203 731" fill="none" stroke="#5a5a5a" stroke-width="2.2" stroke-linecap="round" stroke-linejoin="round"/>
<line x1="742" y1="640.76" x2="746" y2="640.76" stroke="#5a5a5a" stroke-width="2"/>
<text x="739" y="646.06" text-anchor="end" font-size="12.3" fill="#666666" stroke="#666666" stroke-width="0.3">20</text>
<line x1="742" y1="523.41" x2="746" y2="523.41" stroke="#5a5a5a" stroke-width="2"/>
<text x="739" y="528.71" text-anchor="end" font-size="12.3" fill="#666666" stroke="#666666" stroke-width="0.3">30</text>
<line x1="742" y1="406.06" x2="746" y2="406.06" stroke="#5a5a5a" stroke-width="2"/>
<text x="739" y="411.36" text-anchor="end" font-size="12.3" fill="#666666" stroke="#666666" stroke-width="0.3">40</text>
<line x1="742" y1="288.71" x2="746" y2="288.71" stroke="#5a5a5a" stroke-width="2"/>
<text x="739" y="294.01" text-anchor="end" font-size="12.3" fill="#666666" stroke="#666666" stroke-width="0.3">50</text>
<line x1="742" y1="171.36" x2="746" y2="171.36" stroke="#5a5a5a" stroke-width="2"/>
<text x="739" y="176.66" text-anchor="end" font-size="12.3" fill="#666666" stroke="#666666" stroke-width="0.3">60</text>
<line x1="742" y1="54.01" x2="746" y2="54.01" stroke="#5a5a5a" stroke-width="2"/>
<text x="739" y="59.31" text-anchor="end" font-size="12.3" fill="#666666" stroke="#666666" stroke-width="0.3">70</text>
<line x1="870.91" y1="731" x2="870.91" y2="735" stroke="#5a5a5a" stroke-width="2"/>
<text x="870.91" y="747" text-anchor="middle" font-size="12.3" fill="#666666" stroke="#666666" stroke-width="0.3">CHR</text>
<line x1="1079.09" y1="731" x2="1079.09" y2="735" stroke="#5a5a5a" stroke-width="2"/>
<text x="1079.09" y="747" text-anchor="middle" font-size="12.3" fill="#666666" stroke="#666666" stroke-width="0.3">HC</text>
<text transform="translate(975 765.2) scale(1 1.1)" text-anchor="middle" font-size="15.7" fill="#1a1a1a" stroke="#1a1a1a" stroke-width="0.25">Group</text>
<g clip-path="url(#clipB)"><text transform="translate(718.3 373.52) rotate(-90) scale(1 1.15)" x="0" y="0" text-anchor="middle" font-size="15.8" fill="#1a1a1a" stroke="#1a1a1a" stroke-width="0.25">Social cognition (MSCEIT-ME)</text></g>
<text x="677.5" y="32.3" font-size="32" font-weight="bold" fill="#000">B</text>
<path d="M1440.61 687.7 L1440.55 684.44 L1440.5 681.19 L1440.45 677.93 L1440.4 674.68 L1440.36 671.42 L1440.33 668.17 L1440.29 664.91 L1440.26 661.66 L1440.23 658.4 L1440.2 655.15 L1440.16 651.89 L1440.13 648.64 L1440.1 645.38 L1440.06 642.13 L1440.02 638.87 L1439.98 635.62 L1439.93 632.36 L1439.88 629.11 L1439.83 625.85 L1439.77 622.6 L1439.7 619.34 L1439.63 616.09 L1439.55 612.83 L1439.47 609.58 L1439.38 606.32 L1439.28 603.06 L1439.17 599.81 L1439.06 596.55 L1438.94 593.3 L1438.81 590.04 L1438.68 586.79 L1438.53 583.53 L1438.39 580.28 L1438.23 577.02 L1438.08 573.77 L1437.91 570.51 L1437.75 567.26 L1437.58 564 L1437.41 560.75 L1437.24 557.49 L1437.07 554.24 L1436.9 550.98 L1436.73 547.73 L1436.56 544.47 L1436.39 541.22 L1436.23 537.96 L1436.07 534.71 L1435.92 531.45 L1435.76 528.19 L1435.61 524.94 L1435.46 521.68 L1435.31 518.43 L1435.17 515.17 L1435.02 511.92 L1434.86 508.66 L1434.71 505.41 L1434.55 502.15 L1434.39 498.9 L1434.22 495.64 L1434.04 492.39 L1433.86 489.13 L1433.66 485.88 L1433.46 482.62 L1433.25 479.37 L1433.02 476.11 L1432.78 472.86 L1432.53 469.6 L1432.26 466.35 L1431.99 463.09 L1431.69 459.84 L1431.38 456.58 L1431.06 453.33 L1430.71 450.07 L1430.35 446.81 L1429.98 443.56 L1429.58 440.3 L1429.17 437.05 L1428.75 433.79 L1428.31 430.54 L1427.85 427.28 L1427.38 424.03 L1426.91 420.77 L1426.42 417.52 L1425.93 414.26 L1425.44 411.01 L1424.96 407.75 L1424.48 404.5 L1424.01 401.24 L1423.56 397.99 L1423.13 394.73 L1422.73 391.48 L1422.35 388.22 L1422.01 384.97 L1421.7 381.71 L1421.44 378.46 L1421.21 375.2 L1421.03 371.95 L1420.89 368.69 L1420.79 365.43 L1420.73 362.18 L1420.71 358.92 L1420.73 355.67 L1420.78 352.41 L1420.86 349.16 L1420.96 345.9 L1421.09 342.65 L1421.24 339.39 L1421.41 336.14 L1421.58 332.88 L1421.76 329.63 L1421.94 326.37 L1422.13 323.12 L1422.31 319.86 L1422.49 316.61 L1422.67 313.35 L1422.84 310.1 L1423 306.84 L1423.15 303.59 L1423.29 300.33 L1423.43 297.08 L1423.55 293.82 L1423.67 290.56 L1423.77 287.31 L1423.87 284.05 L1423.95 280.8 L1424.03 277.54 L1424.09 274.29 L1424.15 271.03 L1424.19 267.78 L1424.23 264.52 L1424.25 261.27 L1424.27 258.01 L1424.28 254.76 L1424.29 251.5 L1424.29 248.25 L1424.28 244.99 L1424.27 241.74 L1424.27 238.48 L1424.26 235.23 L1424.26 231.97 L1424.27 228.72 L1424.28 225.46 L1424.31 222.21 L1424.34 218.95 L1424.39 215.7 L1424.45 212.44 L1424.53 209.18 L1424.62 205.93 L1424.72 202.67 L1424.84 199.42 L1424.97 196.16 L1425.12 192.91 L1425.28 189.65 L1425.45 186.4 L1425.63 183.14 L1425.82 179.89 L1426.01 176.63 L1426.22 173.38 L1426.44 170.12 L1426.66 166.87 L1426.89 163.61 L1427.13 160.36 L1427.39 157.1 L1427.65 153.85 L1427.93 150.59 L1428.22 147.34 L1428.53 144.08 L1428.85 140.83 L1429.2 137.57 L1429.56 134.32 L1429.69 133.23 L1456.66 133.23 L1456.78 134.32 L1457.15 137.57 L1457.49 140.83 L1457.82 144.08 L1458.13 147.34 L1458.42 150.59 L1458.7 153.85 L1458.96 157.1 L1459.21 160.36 L1459.45 163.61 L1459.69 166.87 L1459.91 170.12 L1460.13 173.38 L1460.33 176.63 L1460.53 179.89 L1460.72 183.14 L1460.9 186.4 L1461.07 189.65 L1461.23 192.91 L1461.37 196.16 L1461.51 199.42 L1461.62 202.67 L1461.73 205.93 L1461.82 209.18 L1461.89 212.44 L1461.96 215.7 L1462 218.95 L1462.04 222.21 L1462.06 225.46 L1462.08 228.72 L1462.08 231.97 L1462.08 235.23 L1462.08 238.48 L1462.07 241.74 L1462.06 244.99 L1462.06 248.25 L1462.06 251.5 L1462.06 254.76 L1462.07 258.01 L1462.09 261.27 L1462.12 264.52 L1462.15 267.78 L1462.2 271.03 L1462.26 274.29 L1462.32 277.54 L1462.39 280.8 L1462.48 284.05 L1462.57 287.31 L1462.68 290.56 L1462.79 293.82 L1462.92 297.08 L1463.05 300.33 L1463.19 303.59 L1463.35 306.84 L1463.51 310.1 L1463.68 313.35 L1463.85 316.61 L1464.03 319.86 L1464.22 323.12 L1464.4 326.37 L1464.59 329.63 L1464.77 332.88 L1464.94 336.14 L1465.1 339.39 L1465.25 342.65 L1465.38 345.9 L1465.49 349.16 L1465.57 352.41 L1465.62 355.67 L1465.64 358.92 L1465.62 362.18 L1465.56 365.43 L1465.46 368.69 L1465.32 371.95 L1465.13 375.2 L1464.91 378.46 L1464.64 381.71 L1464.34 384.97 L1463.99 388.22 L1463.62 391.48 L1463.22 394.73 L1462.79 397.99 L1462.34 401.24 L1461.87 404.5 L1461.39 407.75 L1460.9 411.01 L1460.41 414.26 L1459.93 417.52 L1459.44 420.77 L1458.96 424.03 L1458.49 427.28 L1458.04 430.54 L1457.6 433.79 L1457.17 437.05 L1456.76 440.3 L1456.37 443.56 L1455.99 446.81 L1455.63 450.07 L1455.29 453.33 L1454.96 456.58 L1454.65 459.84 L1454.36 463.09 L1454.08 466.35 L1453.82 469.6 L1453.56 472.86 L1453.33 476.11 L1453.1 479.37 L1452.88 482.62 L1452.68 485.88 L1452.49 489.13 L1452.3 492.39 L1452.13 495.64 L1451.96 498.9 L1451.79 502.15 L1451.63 505.41 L1451.48 508.66 L1451.33 511.92 L1451.18 515.17 L1451.03 518.43 L1450.88 521.68 L1450.73 524.94 L1450.58 528.19 L1450.43 531.45 L1450.27 534.71 L1450.11 537.96 L1449.95 541.22 L1449.79 544.47 L1449.62 547.73 L1449.45 550.98 L1449.28 554.24 L1449.11 557.49 L1448.94 560.75 L1448.77 564 L1448.6 567.26 L1448.43 570.51 L1448.27 573.77 L1448.11 577.02 L1447.96 580.28 L1447.81 583.53 L1447.67 586.79 L1447.53 590.04 L1447.41 593.3 L1447.29 596.55 L1447.17 599.81 L1447.07 603.06 L1446.97 606.32 L1446.88 609.58 L1446.79 612.83 L1446.71 616.09 L1446.64 619.34 L1446.58 622.6 L1446.52 625.85 L1446.46 629.11 L1446.41 632.36 L1446.36 635.62 L1446.32 638.87 L1446.28 642.13 L1446.25 645.38 L1446.21 648.64 L1446.18 651.89 L1446.15 655.15 L1446.12 658.4 L1446.09 661.66 L1446.05 664.91 L1446.02 668.17 L1445.98 671.42 L1445.94 674.68 L1445.9 677.93 L1445.85 681.19 L1445.79 684.44 L1445.74 687.7Z" fill="#FBBAB6" stroke="#2b2b2b" stroke-width="1.3" stroke-linejoin="round"/>
<path d="M1636.24 291.65 L1636.25 290.25 L1636.3 288.86 L1636.38 287.46 L1636.49 286.07 L1636.63 284.67 L1636.8 283.28 L1637 281.88 L1637.21 280.49 L1637.44 279.09 L1637.68 277.7 L1637.93 276.3 L1638.17 274.91 L1638.4 273.51 L1638.62 272.12 L1638.82 270.72 L1639 269.33 L1639.14 267.93 L1639.24 266.54 L1639.29 265.14 L1639.29 263.75 L1639.23 262.35 L1639.1 260.96 L1638.9 259.56 L1638.63 258.17 L1638.27 256.77 L1637.83 255.38 L1637.29 253.98 L1636.67 252.59 L1635.95 251.19 L1635.13 249.8 L1634.22 248.4 L1633.21 247.01 L1632.11 245.61 L1630.91 244.22 L1629.64 242.82 L1628.28 241.43 L1626.86 240.03 L1625.37 238.64 L1623.83 237.24 L1622.24 235.85 L1620.64 234.45 L1619.02 233.06 L1617.4 231.66 L1615.79 230.27 L1614.22 228.87 L1612.71 227.48 L1611.25 226.08 L1609.88 224.69 L1608.61 223.29 L1607.46 221.9 L1606.43 220.5 L1605.54 219.11 L1604.8 217.71 L1604.22 216.32 L1603.81 214.92 L1603.57 213.53 L1603.5 212.13 L1603.6 210.73 L1603.88 209.34 L1604.31 207.94 L1604.91 206.55 L1605.65 205.15 L1606.53 203.76 L1607.53 202.36 L1608.64 200.97 L1609.83 199.57 L1611.09 198.18 L1612.4 196.78 L1613.73 195.39 L1615.07 193.99 L1616.39 192.6 L1617.67 191.2 L1618.9 189.81 L1620.04 188.41 L1621.07 187.02 L1621.98 185.62 L1622.75 184.23 L1623.36 182.83 L1623.79 181.44 L1624.03 180.04 L1624.06 178.65 L1623.87 177.25 L1623.45 175.86 L1622.79 174.46 L1621.89 173.07 L1620.75 171.67 L1619.35 170.28 L1617.71 168.88 L1615.82 167.49 L1613.7 166.09 L1611.35 164.7 L1608.79 163.3 L1606.04 161.91 L1603.11 160.51 L1600.03 159.12 L1596.81 157.72 L1593.5 156.33 L1590.12 154.93 L1586.7 153.54 L1583.28 152.14 L1579.89 150.75 L1576.58 149.35 L1573.37 147.96 L1570.3 146.56 L1567.42 145.17 L1564.76 143.77 L1562.34 142.38 L1560.21 140.98 L1558.38 139.59 L1556.89 138.19 L1555.75 136.8 L1554.97 135.4 L1554.57 134.01 L1554.56 132.61 L1554.93 131.21 L1555.68 129.82 L1556.8 128.42 L1558.28 127.03 L1560.1 125.63 L1562.23 124.24 L1564.65 122.84 L1567.34 121.45 L1570.25 120.05 L1573.35 118.66 L1576.62 117.26 L1580.01 115.87 L1583.5 114.47 L1587.04 113.08 L1590.6 111.68 L1594.15 110.29 L1597.66 108.89 L1601.1 107.5 L1604.45 106.1 L1607.69 104.71 L1610.79 103.31 L1613.73 101.92 L1616.51 100.52 L1619.12 99.13 L1621.55 97.73 L1623.78 96.34 L1625.83 94.94 L1627.69 93.55 L1629.36 92.15 L1630.85 90.76 L1632.17 89.36 L1633.31 87.97 L1634.29 86.57 L1635.13 85.18 L1635.82 83.78 L1636.38 82.39 L1636.82 80.99 L1637.15 79.6 L1637.39 78.2 L1637.54 76.81 L1637.62 75.41 L1637.64 74.02 L1637.6 72.62 L1637.52 71.23 L1637.4 69.83 L1637.27 68.44 L1637.12 67.04 L1636.96 65.65 L1636.8 64.25 L1636.65 62.86 L1636.51 61.46 L1636.39 60.07 L1636.3 58.67 L1636.23 57.28 L1636.19 55.88 L1636.19 54.49 L1636.19 54.02 L1655.06 54.02 L1655.07 54.49 L1655.06 55.88 L1655.02 57.28 L1654.96 58.67 L1654.86 60.07 L1654.74 61.46 L1654.6 62.86 L1654.45 64.25 L1654.3 65.65 L1654.14 67.04 L1653.99 68.44 L1653.85 69.83 L1653.74 71.23 L1653.66 72.62 L1653.62 74.02 L1653.63 75.41 L1653.71 76.81 L1653.86 78.2 L1654.1 79.6 L1654.43 80.99 L1654.88 82.39 L1655.44 83.78 L1656.13 85.18 L1656.96 86.57 L1657.94 87.97 L1659.09 89.36 L1660.4 90.76 L1661.89 92.15 L1663.56 93.55 L1665.42 94.94 L1667.47 96.34 L1669.71 97.73 L1672.13 99.13 L1674.74 100.52 L1677.52 101.92 L1680.47 103.31 L1683.57 104.71 L1686.8 106.1 L1690.15 107.5 L1693.59 108.89 L1697.1 110.29 L1700.65 111.68 L1704.22 113.08 L1707.76 114.47 L1711.24 115.87 L1714.63 117.26 L1717.9 118.66 L1721.01 120.05 L1723.92 121.45 L1726.6 122.84 L1729.02 124.24 L1731.16 125.63 L1732.97 127.03 L1734.45 128.42 L1735.57 129.82 L1736.32 131.21 L1736.69 132.61 L1736.68 134.01 L1736.28 135.4 L1735.51 136.8 L1734.37 138.19 L1732.87 139.59 L1731.05 140.98 L1728.91 142.38 L1726.5 143.77 L1723.83 145.17 L1720.95 146.56 L1717.89 147.96 L1714.68 149.35 L1711.36 150.75 L1707.97 152.14 L1704.55 153.54 L1701.13 154.93 L1697.75 156.33 L1694.44 157.72 L1691.23 159.12 L1688.14 160.51 L1685.21 161.91 L1682.46 163.3 L1679.9 164.7 L1677.56 166.09 L1675.43 167.49 L1673.55 168.88 L1671.91 170.28 L1670.51 171.67 L1669.36 173.07 L1668.46 174.46 L1667.8 175.86 L1667.38 177.25 L1667.19 178.65 L1667.22 180.04 L1667.46 181.44 L1667.89 182.83 L1668.5 184.23 L1669.27 185.62 L1670.18 187.02 L1671.22 188.41 L1672.36 189.81 L1673.58 191.2 L1674.86 192.6 L1676.19 193.99 L1677.53 195.39 L1678.86 196.78 L1680.17 198.18 L1681.43 199.57 L1682.62 200.97 L1683.72 202.36 L1684.72 203.76 L1685.6 205.15 L1686.34 206.55 L1686.94 207.94 L1687.38 209.34 L1687.65 210.73 L1687.76 212.13 L1687.69 213.53 L1687.45 214.92 L1687.03 216.32 L1686.45 217.71 L1685.72 219.11 L1684.83 220.5 L1683.8 221.9 L1682.64 223.29 L1681.37 224.69 L1680 226.08 L1678.55 227.48 L1677.03 228.87 L1675.46 230.27 L1673.86 231.66 L1672.24 233.06 L1670.62 234.45 L1669.01 235.85 L1667.43 237.24 L1665.89 238.64 L1664.4 240.03 L1662.97 241.43 L1661.62 242.82 L1660.34 244.22 L1659.15 245.61 L1658.05 247.01 L1657.04 248.4 L1656.12 249.8 L1655.31 251.19 L1654.59 252.59 L1653.96 253.98 L1653.43 255.38 L1652.98 256.77 L1652.63 258.17 L1652.35 259.56 L1652.15 260.96 L1652.03 262.35 L1651.97 263.75 L1651.97 265.14 L1652.02 266.54 L1652.12 267.93 L1652.26 269.33 L1652.43 270.72 L1652.63 272.12 L1652.85 273.51 L1653.09 274.91 L1653.33 276.3 L1653.57 277.7 L1653.81 279.09 L1654.04 280.49 L1654.25 281.88 L1654.45 283.28 L1654.62 284.67 L1654.76 286.07 L1654.88 287.46 L1654.96 288.86 L1655 290.25 L1655.01 291.65Z" fill="#9ADFE2" stroke="#2b2b2b" stroke-width="1.3" stroke-linejoin="round"/>
<g fill="#F8766D" stroke="#000" stroke-width="1.5"><circle cx="1441.05" cy="687.7" r="2.0"/><circle cx="1445.29" cy="687.7" r="2.0"/><circle cx="1441.05" cy="608.49" r="2.0"/><circle cx="1445.29" cy="608.49" r="2.0"/><circle cx="1434.69" cy="529.28" r="2.0"/><circle cx="1438.93" cy="529.28" r="2.0"/><circle cx="1443.17" cy="529.28" r="2.0"/><circle cx="1447.41" cy="529.28" r="2.0"/><circle cx="1451.65" cy="529.28" r="2.0"/><circle cx="1430.45" cy="450.07" r="2.0"/><circle cx="1434.69" cy="450.07" r="2.0"/><circle cx="1438.93" cy="450.07" r="2.0"/><circle cx="1443.17" cy="450.07" r="2.0"/><circle cx="1447.41" cy="450.07" r="2.0"/><circle cx="1451.65" cy="450.07" r="2.0"/><circle cx="1455.89" cy="450.07" r="2.0"/><circle cx="1409.25" cy="370.86" r="2.0"/><circle cx="1413.49" cy="370.86" r="2.0"/><circle cx="1417.73" cy="370.86" r="2.0"/><circle cx="1421.97" cy="370.86" r="2.0"/><circle cx="1426.21" cy="370.86" r="2.0"/><circle cx="1430.45" cy="370.86" r="2.0"/><circle cx="1434.69" cy="370.86" r="2.0"/><circle cx="1438.93" cy="370.86" r="2.0"/><circle cx="1443.17" cy="370.86" r="2.0"/><circle cx="1447.41" cy="370.86" r="2.0"/><circle cx="1451.65" cy="370.86" r="2.0"/><circle cx="1455.89" cy="370.86" r="2.0"/><circle cx="1460.13" cy="370.86" r="2.0"/><circle cx="1464.37" cy="370.86" r="2.0"/><circle cx="1468.61" cy="370.86" r="2.0"/><circle cx="1472.85" cy="370.86" r="2.0"/><circle cx="1477.09" cy="370.86" r="2.0"/><circle cx="1419.85" cy="291.65" r="2.0"/><circle cx="1424.09" cy="291.65" r="2.0"/><circle cx="1428.33" cy="291.65" r="2.0"/><circle cx="1432.57" cy="291.65" r="2.0"/><circle cx="1436.81" cy="291.65" r="2.0"/><circle cx="1441.05" cy="291.65" r="2.0"/><circle cx="1445.29" cy="291.65" r="2.0"/><circle cx="1449.53" cy="291.65" r="2.0"/><circle cx="1453.77" cy="291.65" r="2.0"/><circle cx="1458.01" cy="291.65" r="2.0"/><circle cx="1462.25" cy="291.65" r="2.0"/><circle cx="1466.49" cy="291.65" r="2.0"/><circle cx="1417.73" cy="212.44" r="2.0"/><circle cx="1421.97" cy="212.44" r="2.0"/><circle cx="1426.21" cy="212.44" r="2.0"/><circle cx="1430.45" cy="212.44" r="2.0"/><circle cx="1434.69" cy="212.44" r="2.0"/><circle cx="1438.93" cy="212.44" r="2.0"/><circle cx="1443.17" cy="212.44" r="2.0"/><circle cx="1447.41" cy="212.44" r="2.0"/><circle cx="1451.65" cy="212.44" r="2.0"/><circle cx="1455.89" cy="212.44" r="2.0"/><circle cx="1460.13" cy="212.44" r="2.0"/><circle cx="1464.37" cy="212.44" r="2.0"/><circle cx="1468.61" cy="212.44" r="2.0"/><circle cx="1424.09" cy="133.23" r="2.0"/><circle cx="1428.33" cy="133.23" r="2.0"/><circle cx="1432.57" cy="133.23" r="2.0"/><circle cx="1436.81" cy="133.23" r="2.0"/><circle cx="1441.05" cy="133.23" r="2.0"/><circle cx="1445.29" cy="133.23" r="2.0"/><circle cx="1449.53" cy="133.23" r="2.0"/><circle cx="1453.77" cy="133.23" r="2.0"/><circle cx="1458.01" cy="133.23" r="2.0"/><circle cx="1462.25" cy="133.23" r="2.0"/></g>
<g fill="#00BFC4" stroke="#000" stroke-width="1.5"><circle cx="1639.27" cy="291.65" r="2.0"/><circle cx="1643.51" cy="291.65" r="2.0"/><circle cx="1647.75" cy="291.65" r="2.0"/><circle cx="1651.99" cy="291.65" r="2.0"/><circle cx="1609.59" cy="212.44" r="2.0"/><circle cx="1613.83" cy="212.44" r="2.0"/><circle cx="1618.07" cy="212.44" r="2.0"/><circle cx="1622.31" cy="212.44" r="2.0"/><circle cx="1626.55" cy="212.44" r="2.0"/><circle cx="1630.79" cy="212.44" r="2.0"/><circle cx="1635.03" cy="212.44" r="2.0"/><circle cx="1639.27" cy="212.44" r="2.0"/><circle cx="1643.51" cy="212.44" r="2.0"/><circle cx="1647.75" cy="212.44" r="2.0"/><circle cx="1651.99" cy="212.44" r="2.0"/><circle cx="1656.23" cy="212.44" r="2.0"/><circle cx="1660.47" cy="212.44" r="2.0"/><circle cx="1664.71" cy="212.44" r="2.0"/><circle cx="1668.95" cy="212.44" r="2.0"/><circle cx="1673.19" cy="212.44" r="2.0"/><circle cx="1677.43" cy="212.44" r="2.0"/><circle cx="1681.67" cy="212.44" r="2.0"/><circle cx="1565.07" cy="133.23" r="2.0"/><circle cx="1569.31" cy="133.23" r="2.0"/><circle cx="1573.55" cy="133.23" r="2.0"/><circle cx="1577.79" cy="133.23" r="2.0"/><circle cx="1582.03" cy="133.23" r="2.0"/><circle cx="1586.27" cy="133.23" r="2.0"/><circle cx="1590.51" cy="133.23" r="2.0"/><circle cx="1594.75" cy="133.23" r="2.0"/><circle cx="1598.99" cy="133.23" r="2.0"/><circle cx="1603.23" cy="133.23" r="2.0"/><circle cx="1607.47" cy="133.23" r="2.0"/><circle cx="1611.71" cy="133.23" r="2.0"/><circle cx="1615.95" cy="133.23" r="2.0"/><circle cx="1620.19" cy="133.23" r="2.0"/><circle cx="1624.43" cy="133.23" r="2.0"/><circle cx="1628.67" cy="133.23" r="2.0"/><circle cx="1632.91" cy="133.23" r="2.0"/><circle cx="1637.15" cy="133.23" r="2.0"/><circle cx="1641.39" cy="133.23" r="2.0"/><circle cx="1645.63" cy="133.23" r="2.0"/><circle cx="1649.87" cy="133.23" r="2.0"/><circle cx="1654.11" cy="133.23" r="2.0"/><circle cx="1658.35" cy="133.23" r="2.0"/><circle cx="1662.59" cy="133.23" r="2.0"/><circle cx="1666.83" cy="133.23" r="2.0"/><circle cx="1671.07" cy="133.23" r="2.0"/><circle cx="1675.31" cy="133.23" r="2.0"/><circle cx="1679.55" cy="133.23" r="2.0"/><circle cx="1683.79" cy="133.23" r="2.0"/><circle cx="1688.03" cy="133.23" r="2.0"/><circle cx="1692.27" cy="133.23" r="2.0"/><circle cx="1696.51" cy="133.23" r="2.0"/><circle cx="1700.75" cy="133.23" r="2.0"/><circle cx="1704.99" cy="133.23" r="2.0"/><circle cx="1709.23" cy="133.23" r="2.0"/><circle cx="1713.47" cy="133.23" r="2.0"/><circle cx="1717.71" cy="133.23" r="2.0"/><circle cx="1721.95" cy="133.23" r="2.0"/><circle cx="1726.19" cy="133.23" r="2.0"/><circle cx="1639.27" cy="54.02" r="2.0"/><circle cx="1643.51" cy="54.02" r="2.0"/><circle cx="1647.75" cy="54.02" r="2.0"/><circle cx="1651.99" cy="54.02" r="2.0"/></g>
<path d="M1321.7 11.55 L1321.7 731 L1766.1 731" fill="none" stroke="#5a5a5a" stroke-width="2.2" stroke-linecap="round" stroke-linejoin="round"/>
<line x1="1317.7" y1="648.1" x2="1321.7" y2="648.1" stroke="#5a5a5a" stroke-width="2"/>
<text x="1314.7" y="653.39" text-anchor="end" font-size="12.3" fill="#666666" stroke="#666666" stroke-width="0.3">2.5</text>
<line x1="1317.7" y1="450.07" x2="1321.7" y2="450.07" stroke="#5a5a5a" stroke-width="2"/>
<text x="1314.7" y="455.37" text-anchor="end" font-size="12.3" fill="#666666" stroke="#666666" stroke-width="0.3">5.0</text>
<line x1="1317.7" y1="252.05" x2="1321.7" y2="252.05" stroke="#5a5a5a" stroke-width="2"/>
<text x="1314.7" y="257.35" text-anchor="end" font-size="12.3" fill="#666666" stroke="#666666" stroke-width="0.3">7.5</text>
<line x1="1317.7" y1="54.02" x2="1321.7" y2="54.02" stroke="#5a5a5a" stroke-width="2"/>
<text x="1314.7" y="59.32" text-anchor="end" font-size="12.3" fill="#666666" stroke="#666666" stroke-width="0.3">10.0</text>
<line x1="1443.17" y1="731" x2="1443.17" y2="735" stroke="#5a5a5a" stroke-width="2"/>
<text x="1443.17" y="747" text-anchor="middle" font-size="12.3" fill="#666666" stroke="#666666" stroke-width="0.3">CHR</text>
<line x1="1645.63" y1="731" x2="1645.63" y2="735" stroke="#5a5a5a" stroke-width="2"/>
<text x="1645.63" y="747" text-anchor="middle" font-size="12.3" fill="#666666" stroke="#666666" stroke-width="0.3">HC</text>
<text transform="translate(1544.4 765.2) scale(1 1.1)" text-anchor="middle" font-size="15.7" fill="#1a1a1a" stroke="#1a1a1a" stroke-width="0.25">Group</text>
<g><text transform="translate(1283 370.82) rotate(-90) scale(1 1.15)" x="0" y="0" text-anchor="middle" font-size="15.8" fill="#1a1a1a" stroke="#1a1a1a" stroke-width="0.25">Social functioning (GFS-S)</text></g>
<text x="1250.5" y="32.3" font-size="32" font-weight="bold" fill="#000">C</text>
<text x="8.5" y="326.3" font-size="20.5" fill="#1a1a1a" stroke="#1a1a1a" stroke-width="0.25">Group</text>
<rect x="10.3" y="339.4" width="29.5" height="29.5" fill="#FBBAB6" stroke="#333333" stroke-width="1.7"/>
<circle cx="25.05" cy="354.15" r="6.2" fill="#F8766D" stroke="#000" stroke-width="1.6"/>
<text x="51.6" y="360.3" font-size="17" fill="#1a1a1a" stroke="#1a1a1a" stroke-width="0.25">CHR</text>
<rect x="10.3" y="373" width="29.5" height="29.5" fill="#9ADFE2" stroke="#333333" stroke-width="1.7"/>
<circle cx="25.05" cy="387.75" r="6.2" fill="#00BFC4" stroke="#000" stroke-width="1.6"/>
<text x="51.6" y="393.2" font-size="17" fill="#1a1a1a" stroke="#1a1a1a" stroke-width="0.25">HC</text>
</svg>
</body></html>
